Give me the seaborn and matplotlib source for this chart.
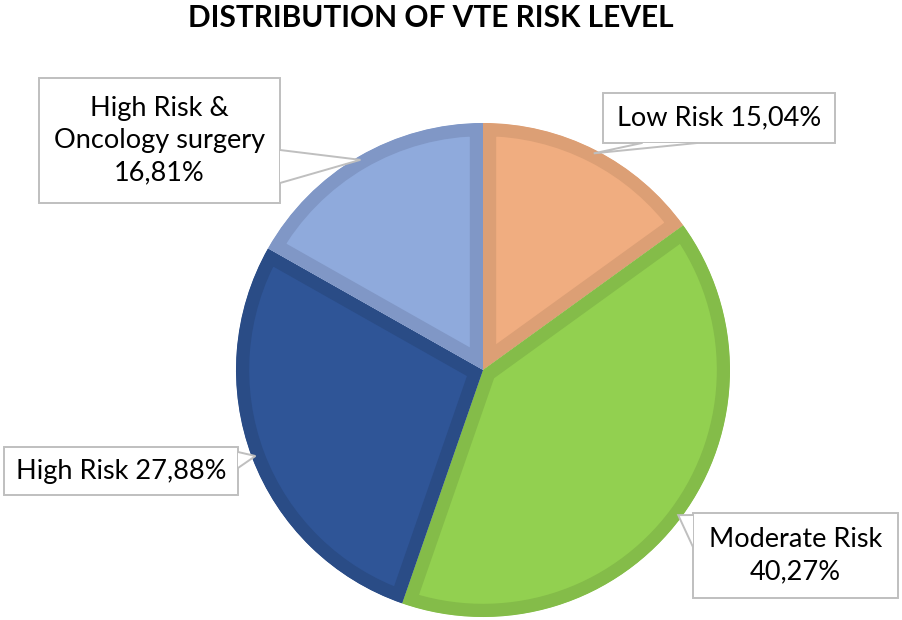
import numpy as np
import matplotlib
matplotlib.use("Agg")
import matplotlib.pyplot as plt
import seaborn as sns
from matplotlib.patches import Rectangle, Polygon, Wedge

# Data
labels = ["Low Risk", "Moderate Risk", "High Risk", "High Risk &\nOncology surgery"]
shares = [15.04, 40.27, 27.88, 16.81]
fills = ["#F0AD80", "#92D050", "#2F5597", "#8FAADC"]
edges = ["#DC9F75", "#84BC49", "#2A4C86", "#8097C6"]
title = "DISTRIBUTION OF VTE RISK LEVEL"

sns.set_theme(style="white")
plt.rcParams["font.family"] = ["Lato", "DejaVu Sans"]

W, H = 902, 620
CX, CY, R = 483, 370, 247  # pie centre / radius in pixels

def px(x, y):
    return ((x - CX) / R, (CY - y) / R)

fig = plt.figure(figsize=(W / 100, H / 100), dpi=100)
ax = fig.add_axes([0, 0, 1, 1])

palette = sns.color_palette(fills)
wedges, _ = ax.pie(shares, colors=palette, startangle=90, counterclock=False,
                   radius=1, center=(0, 0), wedgeprops=dict(linewidth=0))

ax.set_xlim(px(0, 0)[0], px(W, 0)[0])
ax.set_ylim(px(0, H)[1], px(0, 0)[1])
ax.set_aspect("auto")
ax.axis("off")

# inner border: a thick edge clipped to the wedge itself
for w, ec in zip(wedges, edges):
    clip = Wedge(w.center, w.r, w.theta1, w.theta2, transform=ax.transData)
    w.set_edgecolor(ec)
    w.set_linewidth(19)
    w.set_clip_on(True)
    w.set_clip_path(clip)

# label boxes: (left, top, right, bottom) in pixels and pointer base points
boxes = [
    ((603, 93, 835, 143), [(642, 143), (697, 143)]),
    ((693, 513, 898, 598), [(693, 515), (693, 547)]),
    ((4, 447, 238, 495), [(238, 452), (238, 468)]),
    ((39, 78, 280, 203), [(280, 150), (280, 183)]),
]

cum = np.cumsum([0] + shares)
for i, (lab, v) in enumerate(zip(labels, shares)):
    (l, t, r, b), base = boxes[i]
    x0, y1 = px(l, t)
    x1, y0 = px(r, b)
    ax.add_patch(Rectangle((x0, y0), x1 - x0, y1 - y0, facecolor="white",
                           edgecolor="#BFBFBF", linewidth=1.4, zorder=5))
    # pointer tip on the wedge edge at mid angle
    mid = 90 - (cum[i] + v / 2) / 100 * 360
    tip = (0.985 * np.cos(np.radians(mid)), 0.985 * np.sin(np.radians(mid)))
    b1, b2 = px(*base[0]), px(*base[1])
    ax.add_patch(Polygon([b1, tip, b2], closed=True, facecolor="white",
                         edgecolor="none", zorder=6))
    ax.plot([b1[0], tip[0], b2[0]], [b1[1], tip[1], b2[1]],
            color="#BFBFBF", linewidth=1.4, zorder=7, solid_joinstyle="miter")
    val = f"{v:.2f}".replace(".", ",") + "%"
    if "\n" in lab or lab == "Moderate Risk":
        txt = f"{lab}\n{val}"
    else:
        txt = f"{lab} {val}"
    ax.text((x0 + x1) / 2, (y0 + y1) / 2, txt, ha="center", va="center",
            fontsize=19.5, color="black", linespacing=1.35, zorder=8)

tx, ty = px(431, 18)
ax.text(tx, ty, title, ha="center", va="center", fontsize=21.5,
        fontweight="bold", color="black")

fig.savefig("out.png", dpi=100, facecolor="white")
